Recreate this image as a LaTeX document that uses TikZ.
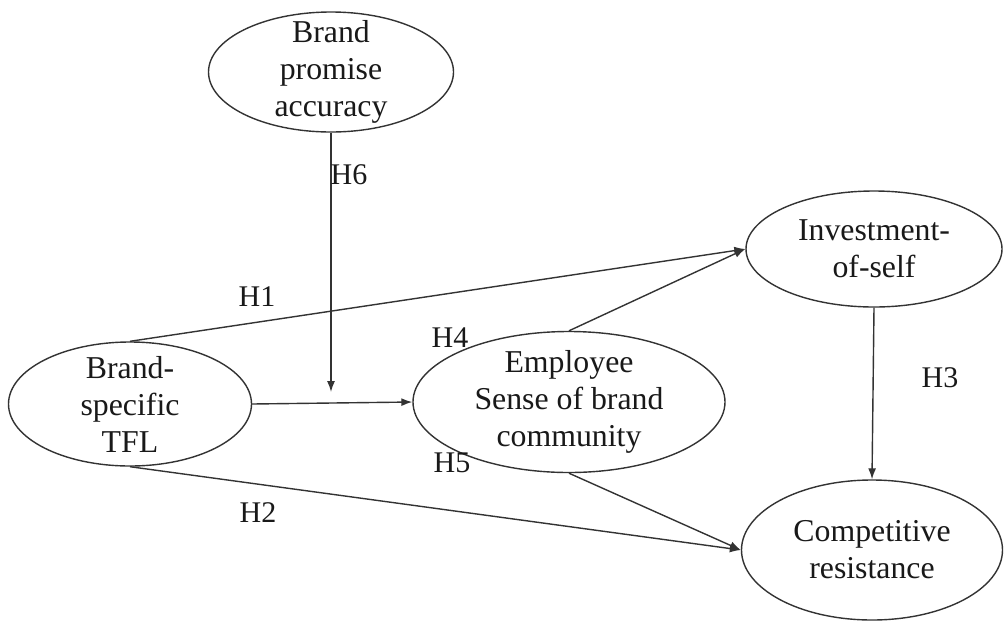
\documentclass[tikz,border=0pt]{standalone}
\usepackage{fontspec}
\setmainfont{Liberation Serif}
\usetikzlibrary{shapes.geometric,arrows.meta}
\begin{document}
\begin{tikzpicture}[x=1pt,y=-1pt,
  construct/.style={ellipse,draw=black!80,line width=1.4pt,inner sep=0pt,
    label={[align=center,font=\fontsize{31.8}{37}\selectfont,text=black!90]center:#1}},
  link/.style={draw=black!80,line width=1.4pt,-{Latex[length=11pt,width=8pt]}},
  hyp/.style={font=\fontsize{30}{34}\selectfont,text=black!90,inner sep=0pt}]
  \useasboundingbox[fill=white] (0,0) rectangle (1004,622);

  % constructs of the model
  \node[construct={Brand\\promise\\accuracy},minimum width=245pt,minimum height=120pt] (bpa) at (331,72) {};
  \node[construct={Brand-\\specific\\TFL},minimum width=243pt,minimum height=124pt] (tfl) at (130,404) {};
  \node[construct={Employee\\Sense of brand\\community},minimum width=312pt,minimum height=141pt] (emp) at (569,402) {};
  \node[construct={Investment-\\of-self},minimum width=256pt,minimum height=116pt] (inv) at (874,249) {};
  \node[construct={Competitive\\resistance},minimum width=261pt,minimum height=140pt] (comp) at (872,550) {};

  % moderation target on the TFL -> community path
  \coordinate (mod) at (331,392);

  % hypothesised paths
  \draw[link] (bpa.south) -- (mod);
  \draw[link] (tfl.east) -- (emp.west);
  \draw[link] (tfl.north) -- (inv.west);
  \draw[link] (tfl.south) -- (comp.west);
  \draw[link] (emp.north) -- (inv.west);
  \draw[link] (emp.south) -- (comp.west);
  \draw[link] (inv.south) -- (comp.north);

  % hypothesis labels
  \node[hyp] (h1) at (257,297) {H1};
  \node[hyp] (h2) at (258,513) {H2};
  \node[hyp] (h3) at (940,378) {H3};
  \node[hyp] (h4) at (450,338) {H4};
  \node[hyp] (h5) at (452,463) {H5};
  \node[hyp] (h6) at (349,175) {H6};
\end{tikzpicture}
\end{document}
